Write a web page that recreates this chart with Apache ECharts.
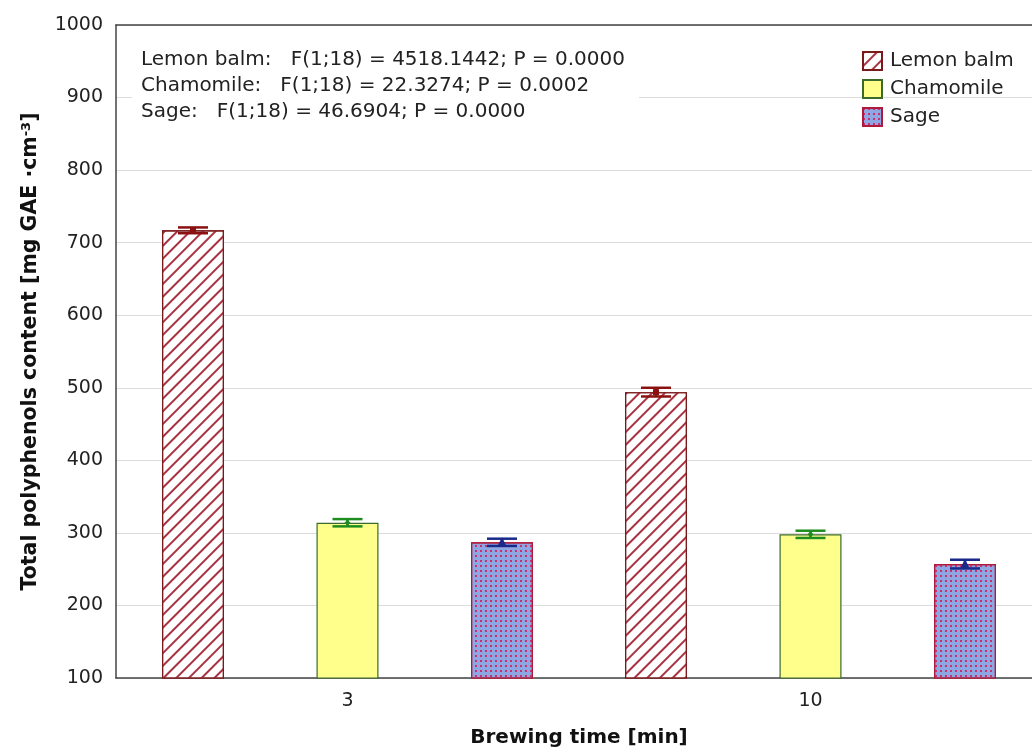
<!DOCTYPE html>
<html>
<head>
<meta charset="utf-8">
<script src="https://cdn.jsdelivr.net/npm/echarts@6/dist/echarts.min.js"></script>
<style>
  html, body { margin: 0; padding: 0; background: #fff; overflow: hidden; }
  #chart { width: 1042px; height: 753px; }
</style>
</head>
<body>
<div id="chart"></div>
<script>
// brewing time categories (min)
var categories = ['3', '10'];
var seriesNames = ['Lemon balm', 'Chamomile', 'Sage'];

// mean total polyphenols content [mg GAE cm-3]
var lemonMeans = [717, 494];
var chamomileMeans = [314, 298];
var sageMeans = [287, 257];

// half-width of the error bars
var lemonErr = [4, 6];
var chamomileErr = [5, 5];
var sageErr = [5, 6];

var statLines = [
  'Lemon balm:   F(1;18) = 4518.1442; P = 0.0000',
  'Chamomile:   F(1;18) = 22.3274; P = 0.0002',
  'Sage:   F(1;18) = 46.6904; P = 0.0000'
];

var FONT = '"DejaVu Sans", Verdana, sans-serif';
var BAR_W = 62;
var BAR_GAP = 92.5;

function errData(means, errs) {
  return means.map(function (m, i) { return [i, m - errs[i], m + errs[i], m]; });
}

function errorRender(offset, color, marker) {
  return function (params, api) {
    var lo = api.coord([api.value(0), api.value(1)]);
    var hi = api.coord([api.value(0), api.value(2)]);
    var mid = api.coord([api.value(0), api.value(3)]);
    var cx = lo[0] + offset;
    var half = 15;
    var st = { stroke: color, lineWidth: 2.5 };
    var kids = [
      { type: 'line', shape: { x1: cx, y1: lo[1], x2: cx, y2: hi[1] }, style: st },
      { type: 'line', shape: { x1: cx - half, y1: lo[1], x2: cx + half, y2: lo[1] }, style: st },
      { type: 'line', shape: { x1: cx - half, y1: hi[1], x2: cx + half, y2: hi[1] }, style: st }
    ];
    var y = mid[1];
    if (marker === 'square') {
      kids.push({ type: 'rect', shape: { x: cx - 3, y: y - 3, width: 6, height: 6 }, style: { fill: color } });
    } else if (marker === 'diamond') {
      kids.push({ type: 'polygon', shape: { points: [[cx, y - 3], [cx + 3, y], [cx, y + 3], [cx - 3, y]] }, style: { fill: color } });
    } else {
      kids.push({ type: 'polygon', shape: { points: [[cx, y - 5], [cx + 4.5, y + 4], [cx - 4.5, y + 4]] }, style: { fill: color } });
    }
    return { type: 'group', children: kids };
  };
}

var chart = echarts.init(document.getElementById('chart'));

var option = {
  animation: false,
  backgroundColor: '#fff',
  textStyle: { fontFamily: FONT },
  grid: { left: 116, top: 25, right: 0, bottom: 75 },
  legend: {
    data: seriesNames,
    orient: 'vertical',
    left: 862,
    top: 51,
    padding: 0,
    itemWidth: 19,
    itemHeight: 18,
    itemGap: 8,
    icon: 'rect',
    textStyle: { fontSize: 20, color: '#222', fontFamily: FONT, padding: [0, 0, 0, 3] }
  },
  xAxis: [{
    type: 'category',
    data: categories,
    position: 'bottom',
    name: 'Brewing time [min]',
    nameLocation: 'middle',
    nameGap: 50,
    nameTextStyle: { fontSize: 20, fontWeight: 'bold', color: '#111', fontFamily: FONT },
    axisLine: { lineStyle: { color: '#444', width: 1.5 } },
    axisTick: { inside: true, alignWithLabel: true, length: 4, lineStyle: { color: '#444' } },
    axisLabel: { fontSize: 19, color: '#222', margin: 14, fontFamily: FONT },
    splitLine: { show: false }
  }, {
    type: 'category',
    data: categories,
    position: 'top',
    axisLine: { lineStyle: { color: '#444', width: 1.5 } },
    axisTick: { inside: true, alignWithLabel: true, length: 4, lineStyle: { color: '#444' } },
    axisLabel: { show: false },
    splitLine: { show: false }
  }],
  yAxis: {
    type: 'value',
    min: 100,
    max: 1000,
    interval: 100,
    name: 'Total polyphenols content [mg GAE ·cm{sup|-3}]',
    nameLocation: 'middle',
    nameGap: 74,
    nameTextStyle: {
      fontSize: 20.5, fontWeight: 'bold', color: '#111', fontFamily: FONT,
      rich: { sup: { fontSize: 13, fontWeight: 'bold', color: '#111', verticalAlign: 'top', padding: [0, 0, 9, 0], fontFamily: FONT } }
    },
    axisLine: { show: true, lineStyle: { color: '#444', width: 1.5 } },
    axisTick: { show: false },
    axisLabel: { fontSize: 19, color: '#222', margin: 13, fontFamily: FONT, formatter: function (v) { return String(v); } },
    splitLine: { lineStyle: { color: '#dcdcdc', width: 1 } }
  },
  series: [{
    name: 'Lemon balm',
    type: 'bar',
    data: lemonMeans,
    barWidth: BAR_W,
    barGap: (BAR_GAP / BAR_W * 100) + '%',
    itemStyle: {
      color: '#ffffff',
      borderColor: '#7a1a1a',
      borderWidth: 1.2,
      decal: { symbol: 'rect', symbolSize: 1, dashArrayX: [1, 0], dashArrayY: [1.3, 6.2], rotation: -Math.PI / 4, color: '#a83242' }
    }
  }, {
    name: 'Chamomile',
    type: 'bar',
    data: chamomileMeans,
    barWidth: BAR_W,
    itemStyle: { color: '#ffff8c', borderColor: '#3a6b2a', borderWidth: 1.2 }
  }, {
    name: 'Sage',
    type: 'bar',
    data: sageMeans,
    barWidth: BAR_W,
    itemStyle: {
      color: '#8ea6e2',
      borderColor: '#b01a3a',
      borderWidth: 1.2,
      decal: { symbol: 'rect', symbolSize: 1, dashArrayX: [[2, 3]], dashArrayY: [2, 3], color: '#c8306e' }
    }
  }, {
    name: 'err-lemon',
    type: 'custom',
    data: errData(lemonMeans, lemonErr),
    renderItem: errorRender(-(BAR_W + BAR_GAP), '#8b1010', 'square'),
    z: 5
  }, {
    name: 'err-chamomile',
    type: 'custom',
    data: errData(chamomileMeans, chamomileErr),
    renderItem: errorRender(0, '#1e8c1e', 'diamond'),
    z: 5
  }, {
    name: 'err-sage',
    type: 'custom',
    data: errData(sageMeans, sageErr),
    renderItem: errorRender(BAR_W + BAR_GAP, '#1a2a8a', 'triangle'),
    z: 5
  }],
  graphic: [{
    type: 'rect',
    shape: { x: 132, y: 40, width: 507, height: 86 },
    style: { fill: '#fff' },
    z: 10
  }, {
    type: 'text',
    left: 141,
    top: 47,
    z: 11,
    style: { text: statLines.join('\n'), font: '20px ' + FONT, fill: '#222', lineHeight: 26 }
  }]
};

chart.setOption(option);
</script>
</body>
</html>
